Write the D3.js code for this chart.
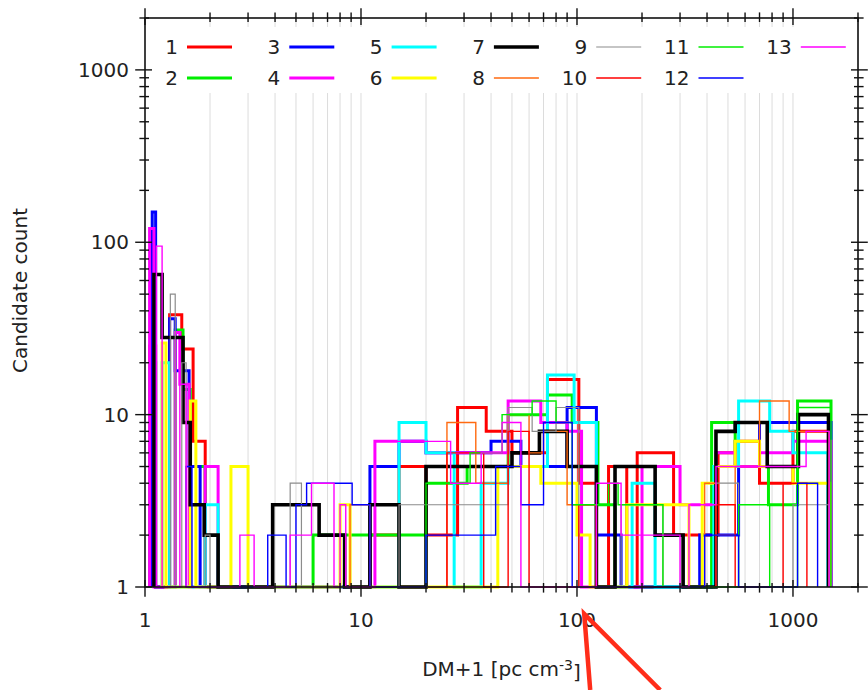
<!DOCTYPE html>
<html>
<head>
<meta charset="UTF-8">
<script src="https://cdn.jsdelivr.net/npm/d3@7"></script>
<style>
body { margin: 0; background: #fff; }
text { font-family: "DejaVu Sans", sans-serif; fill: #222; }
</style>
</head>
<body>
<div id="chart"></div>
<script>
// histogram bin edges (DM+1) and candidate counts, one pair per run
var edges1  = [1.05, 1.12, 1.3, 1.48, 1.67, 1.9, 11, 15, 20, 28, 38, 50, 73, 102, 123, 140, 170, 190, 280, 450, 540, 700, 1000, 1460];
var counts1 = [25, 0, 38, 24, 7, 0, 2, 5, 2, 11, 8, 6, 16, 4, 0, 5, 0, 6, 2, 6, 7, 4, 8];
var edges2  = [1.05, 1.12, 1.38, 1.5, 1.62, 1.9, 6.0, 11, 20, 31, 48, 73, 95, 125, 150, 420, 540, 770, 1050, 1500];
var counts2 = [20, 0, 31, 14, 5, 0, 2, 2, 4, 5, 10, 13, 9, 3, 0, 9, 5, 3, 12];
var edges3  = [1.08, 1.12, 1.3, 1.38, 1.6, 1.8, 11, 15, 20, 40, 55, 90, 123, 160, 370, 560, 700, 1500];
var counts3 = [150, 0, 36, 18, 5, 0, 5, 7, 6, 7, 5, 11, 2, 0, 2, 5, 9];
var edges4  = [1.05, 1.1, 1.38, 1.45, 1.6, 1.9, 2.18, 11.6, 20, 48, 68, 90, 105, 200, 300, 440, 540, 700, 1000, 1500];
var counts4 = [120, 0, 30, 15, 0, 5, 0, 7, 6, 12, 9, 8, 0, 5, 3, 6, 5, 6, 7];
var edges5  = [1.2, 1.3, 1.9, 2.18, 15, 20, 27, 36, 48, 73, 97, 123, 180, 230, 430, 560, 780, 1000, 1450];
var counts5 = [20, 0, 3, 0, 9, 6, 0, 4, 5, 17, 9, 0, 4, 0, 5, 12, 8, 6];
var edges6  = [1.2, 1.25, 1.62, 1.72, 2.5, 3.0, 8.0, 8.9, 43, 68, 100, 115, 170, 330, 380, 440, 540, 700, 1000, 1480];
var counts6 = [26, 0, 12, 0, 5, 0, 3, 0, 5, 4, 2, 0, 3, 0, 4, 5, 7, 5, 4];
var edges7  = [1.1, 1.2, 1.5, 1.62, 1.88, 2.18, 3.9, 6.4, 8.4, 11, 15, 20, 50, 67, 90, 123, 150, 230, 310, 440, 540, 760, 1060, 1460];
var counts7 = [65, 28, 9, 3, 2, 0, 3, 2, 0, 3, 0, 5, 6, 8, 5, 0, 5, 2, 0, 8, 9, 5, 10];
var edges8  = [8.9, 11, 25, 34, 48, 60, 70, 90, 123, 390, 440, 540, 700, 960, 1470];
var counts8 = [3, 0, 9, 4, 10, 6, 8, 3, 0, 4, 2, 5, 12, 8];
var edges9  = [1.31, 1.38, 1.48, 1.55, 1.9, 2.0, 4.7, 5.3, 15, 48, 62, 80, 102, 160, 250, 440, 560, 1000, 1470];
var counts9 = [50, 0, 20, 0, 2, 0, 4, 0, 3, 11, 8, 11, 0, 3, 0, 4, 0, 3];
var edges10  = [25, 37, 48, 60, 102, 123, 440, 540, 900, 1160];
var counts10 = [6, 0, 8, 0, 3, 0, 3, 0, 4];
var edges11  = [20, 32, 45, 62, 80, 95, 140, 155, 250, 560, 780, 1050, 1500];
var counts11 = [4, 6, 10, 12, 9, 3, 4, 3, 0, 3, 0, 11];
var edges12  = [1.55, 1.65, 3.7, 4.5, 5.0, 5.6, 9.1, 11, 20, 42, 55, 70, 95, 390, 560, 1050, 1300];
var counts12 = [5, 0, 2, 0, 3, 4, 3, 0, 2, 5, 3, 9, 0, 2, 0, 4];
var edges13  = [1.13, 1.2, 1.45, 1.55, 2.75, 3.2, 4.7, 5.9, 7.5, 8.0, 8.5, 11.6, 26, 36, 45, 55, 123, 160, 300, 330, 440, 1150, 1470];
var counts13 = [95, 0, 15, 0, 2, 0, 2, 4, 0, 3, 0, 7, 4, 6, 9, 0, 4, 2, 0, 3, 5, 8];

var seriesNames = ["1", "2", "3", "4", "5", "6", "7", "8", "9", "10", "11", "12", "13"];
var xMajor = [1, 10, 100, 1000];
var yMajor = [1, 10, 100, 1000];

var allEdges = [edges1, edges2, edges3, edges4, edges5, edges6, edges7, edges8, edges9, edges10, edges11, edges12, edges13];
var allCounts = [counts1, counts2, counts3, counts4, counts5, counts6, counts7, counts8, counts9, counts10, counts11, counts12, counts13];

var colors = ["#ff0000", "#00ee00", "#0000ff", "#ff00ff", "#00ffff", "#ffff00", "#000000",
              "#ff6a10", "#8c8c8c", "#ff0000", "#00ee00", "#0000ff", "#ff00ff"];
var strokeW = [3, 3, 3, 3, 3, 3, 3.6, 1.4, 1.2, 1.4, 1.4, 1.4, 1.4];

var width = 868, height = 690,
    margin = {top: 18, right: 10, bottom: 103, left: 145};
var w = width - margin.left - margin.right,
    h = height - margin.top - margin.bottom;

var x = d3.scaleLog().domain([1, 2000]).range([0, w]);
var y = d3.scaleLog().domain([1, 2000]).range([h, 0]);

var svg = d3.select("#chart").append("svg")
    .attr("width", width)
    .attr("height", height)
  .append("g")
    .attr("transform", "translate(" + margin.left + "," + margin.top + ")");

// minor tick values 2..9 per decade
function minors(maxV) {
    var out = [];
    for (var p = 1; p <= 1000; p *= 10) {
        for (var m = 2; m <= 9; m++) {
            if (m * p <= maxV) out.push(m * p);
        }
    }
    return out;
}
var xMinor = minors(2000), yMinor = minors(2000);

// vertical grid
svg.selectAll(".grid")
    .data(xMajor.slice(1).concat(xMinor))
    .enter().append("line")
    .attr("x1", function(d) { return x(d); })
    .attr("x2", function(d) { return x(d); })
    .attr("y1", 0).attr("y2", h)
    .style("stroke", "#dcdcdc")
    .style("stroke-width", 1);

// histogram outlines
function stepPoints(edges, counts) {
    var pts = [[edges[0], 0]];
    counts.forEach(function(c, i) {
        pts.push([edges[i], c]);
        pts.push([edges[i + 1], c]);
    });
    pts.push([edges[edges.length - 1], 0]);
    return pts;
}
var line = d3.line()
    .x(function(d) { return x(d[0]); })
    .y(function(d) { return y(Math.max(d[1], 1)); });

allEdges.forEach(function(e, i) {
    svg.append("path")
        .datum(stepPoints(e, allCounts[i]))
        .attr("d", line)
        .style("fill", "none")
        .style("stroke", colors[i])
        .style("stroke-width", strokeW[i])
        .style("stroke-linejoin", "miter");
});

// legend (white box over the grid)
svg.append("rect")
    .attr("x", 1).attr("y", 9)
    .attr("width", w - 2).attr("height", 66)
    .style("fill", "#fff");

var legend = svg.selectAll(".leg")
    .data(seriesNames)
    .enter().append("g")
    .attr("transform", function(d, i) {
        return "translate(" + (42 + Math.floor(i / 2) * 102.3) + "," + (29 + (i % 2) * 31) + ")";
    });
legend.append("line")
    .attr("x1", 0).attr("x2", 45)
    .style("stroke", function(d, i) { return colors[i]; })
    .style("stroke-width", function(d, i) { return strokeW[i]; });
legend.append("text")
    .attr("x", -9).attr("dy", "0.36em")
    .attr("text-anchor", "end")
    .style("font-size", "20px")
    .text(function(d) { return d; });

// frame
svg.append("rect")
    .attr("width", w).attr("height", h)
    .style("fill", "none")
    .style("stroke", "#111")
    .style("stroke-width", 1.6);

// ticks on all four sides
function ticks(vals, len, axis) {
    vals.forEach(function(v) {
        if (axis === "x") {
            var px = x(v);
            svg.append("line").attr("x1", px).attr("x2", px).attr("y1", h - len).attr("y2", h + len * 1.4).attr("class", "tk");
            svg.append("line").attr("x1", px).attr("x2", px).attr("y1", -len * 1.4).attr("y2", len).attr("class", "tk");
        } else {
            var py = y(v);
            svg.append("line").attr("y1", py).attr("y2", py).attr("x1", -len * 1.4).attr("x2", len).attr("class", "tk");
            svg.append("line").attr("y1", py).attr("y2", py).attr("x1", w - len).attr("x2", w + len * 1.4).attr("class", "tk");
        }
    });
}
ticks(xMajor, 7, "x");
ticks(xMinor, 4, "x");
ticks(yMajor, 7, "y");
ticks(yMinor, 4, "y");
svg.selectAll(".tk").style("stroke", "#111").style("stroke-width", 1.4);

// tick labels
svg.selectAll(".xl")
    .data(xMajor)
    .enter().append("text")
    .attr("x", function(d) { return x(d); })
    .attr("y", h + 40)
    .attr("text-anchor", "middle")
    .style("font-size", "20px")
    .text(function(d) { return d; });
svg.selectAll(".yl")
    .data(yMajor)
    .enter().append("text")
    .attr("x", -16)
    .attr("y", function(d) { return y(d); })
    .attr("dy", "0.36em")
    .attr("text-anchor", "end")
    .style("font-size", "20px")
    .text(function(d) { return d; });

// axis titles
var xt = svg.append("text")
    .attr("x", w / 2)
    .attr("y", h + 89)
    .attr("text-anchor", "middle")
    .style("font-size", "20px");
xt.append("tspan").text("DM+1 [pc cm");
xt.append("tspan").attr("dy", "-0.45em").style("font-size", "14px").text("-3");
xt.append("tspan").attr("dy", "0.45em").text("]");

svg.append("text")
    .attr("transform", "translate(" + (-118) + "," + (h / 2 - 12) + ") rotate(-90)")
    .attr("text-anchor", "middle")
    .style("font-size", "20px")
    .text("Candidate count");

// red arrow overlaid on the figure
var tipX = x(108), tipY = h + 27;
svg.append("path")
    .attr("d", "M" + (tipX + 6) + "," + (height - margin.top) + "L" + tipX + "," + tipY + "L" + (tipX + 76) + "," + (height - margin.top))
    .style("fill", "none")
    .style("stroke", "#ff2d1a")
    .style("stroke-width", 4.5);
</script>
</body>
</html>
